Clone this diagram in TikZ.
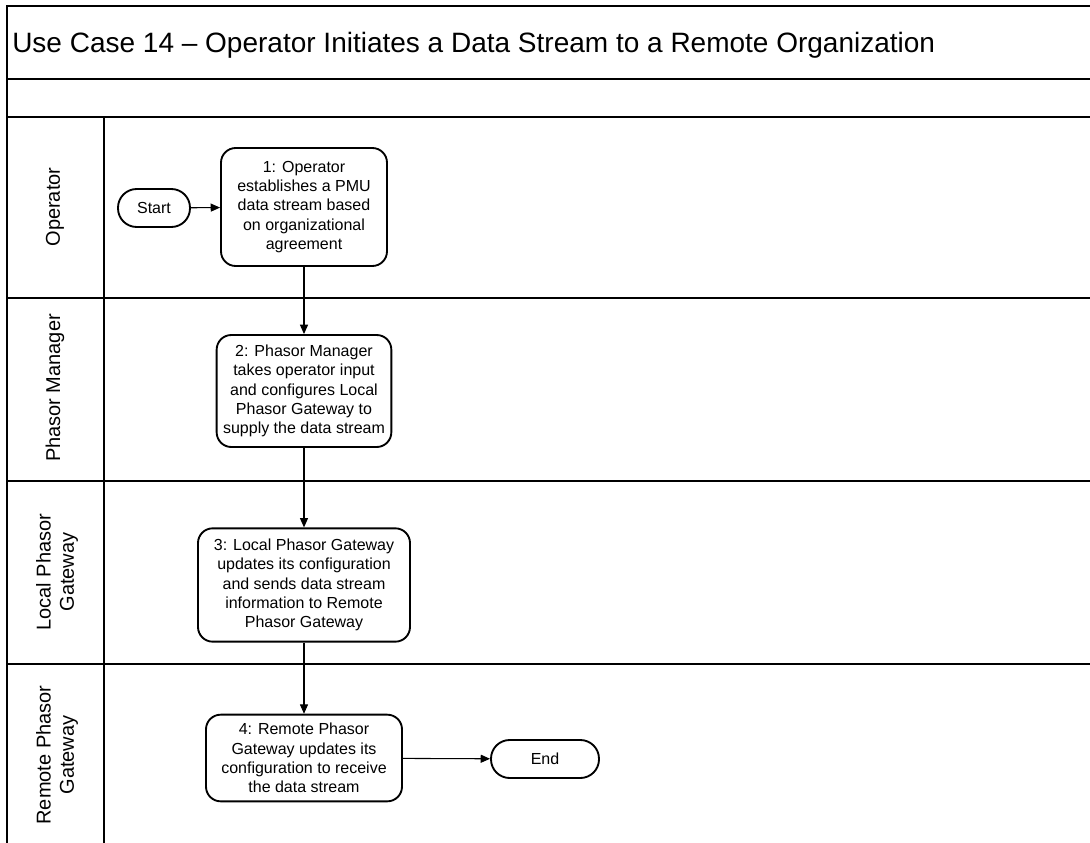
\documentclass[tikz,border=0pt]{standalone}
\usepackage{fontspec}
\setmainfont{Liberation Sans}
\usepackage{tikz}
\usetikzlibrary{arrows.meta}

\begin{document}
\begin{tikzpicture}[x=0.75pt, y=-0.75pt]
\tikzstyle{every node}=[inner sep=0pt, font=\fontsize{12}{14.5}\selectfont]
\tikzstyle{task}=[draw, line width=1.4pt, rounded corners=11pt, align=center]
\tikzstyle{term}=[draw, line width=1.4pt, rounded corners=14pt,
                  minimum height=28.5pt]
\tikzstyle{lane}=[rotate=90, align=center, font=\fontsize{15}{17.5}\selectfont]
\tikzstyle{flow}=[line width=0.8pt, -{Triangle[length=7pt,width=6pt]}]
\tikzstyle{grid}=[line width=0.9pt]
\useasboundingbox (0,0) rectangle (1090,843);
% frame and lanes
\draw[grid] (1090,6) -- (7,6) -- (7,843);
\draw[grid] (7,79) -- (1090,79);
\draw[grid] (7,117) -- (1090,117);
\draw[grid] (7,298) -- (1090,298);
\draw[grid] (7,481) -- (1090,481);
\draw[grid] (7,664) -- (1090,664);
\draw[grid] (104,117) -- (104,843);
\node[anchor=base west, font=\fontsize{21}{25}\selectfont] (title) at (12,52)
  {Use Case 14 \textendash{} Operator Initiates a Data Stream to a Remote Organization};
\node[lane] (L1) at (55,207) {Operator};
\node[lane] (L2) at (55,388) {Phasor Manager};
\node[lane] (L3) at (57,572) {Local Phasor\\Gateway};
\node[lane] (L4) at (57,755) {Remote Phasor\\Gateway};
% steps
\node[term, minimum width=54pt] (start) at (154,208) {Start};
\node[task, minimum width=124.5pt, minimum height=88.5pt] (s1) at (304,207)
  {1: Operator\\establishes a PMU\\data stream based\\on organizational\\agreement};
\node[task, minimum width=131pt, minimum height=84pt] (s2) at (304,391)
  {2: Phasor Manager\\takes operator input\\and configures Local\\Phasor Gateway to\\supply the data stream};
\node[task, minimum width=159pt, minimum height=85pt] (s3) at (304,585)
  {3: Local Phasor Gateway\\updates its configuration\\and sends data stream\\information to Remote\\Phasor Gateway};
\node[task, minimum width=147pt, minimum height=65pt] (s4) at (304,758)
  {4: Remote Phasor\\Gateway updates its\\configuration to receive\\the data stream};
\node[term, minimum width=81pt] (end) at (545,759) {End};
\draw[flow] (start) -- (s1);
\draw[flow] (s1) -- (s2);
\draw[flow] (s2) -- (s3);
\draw[flow] (s3) -- (s4);
\draw[flow] (s4) -- (end);
\end{tikzpicture}
\end{document}
